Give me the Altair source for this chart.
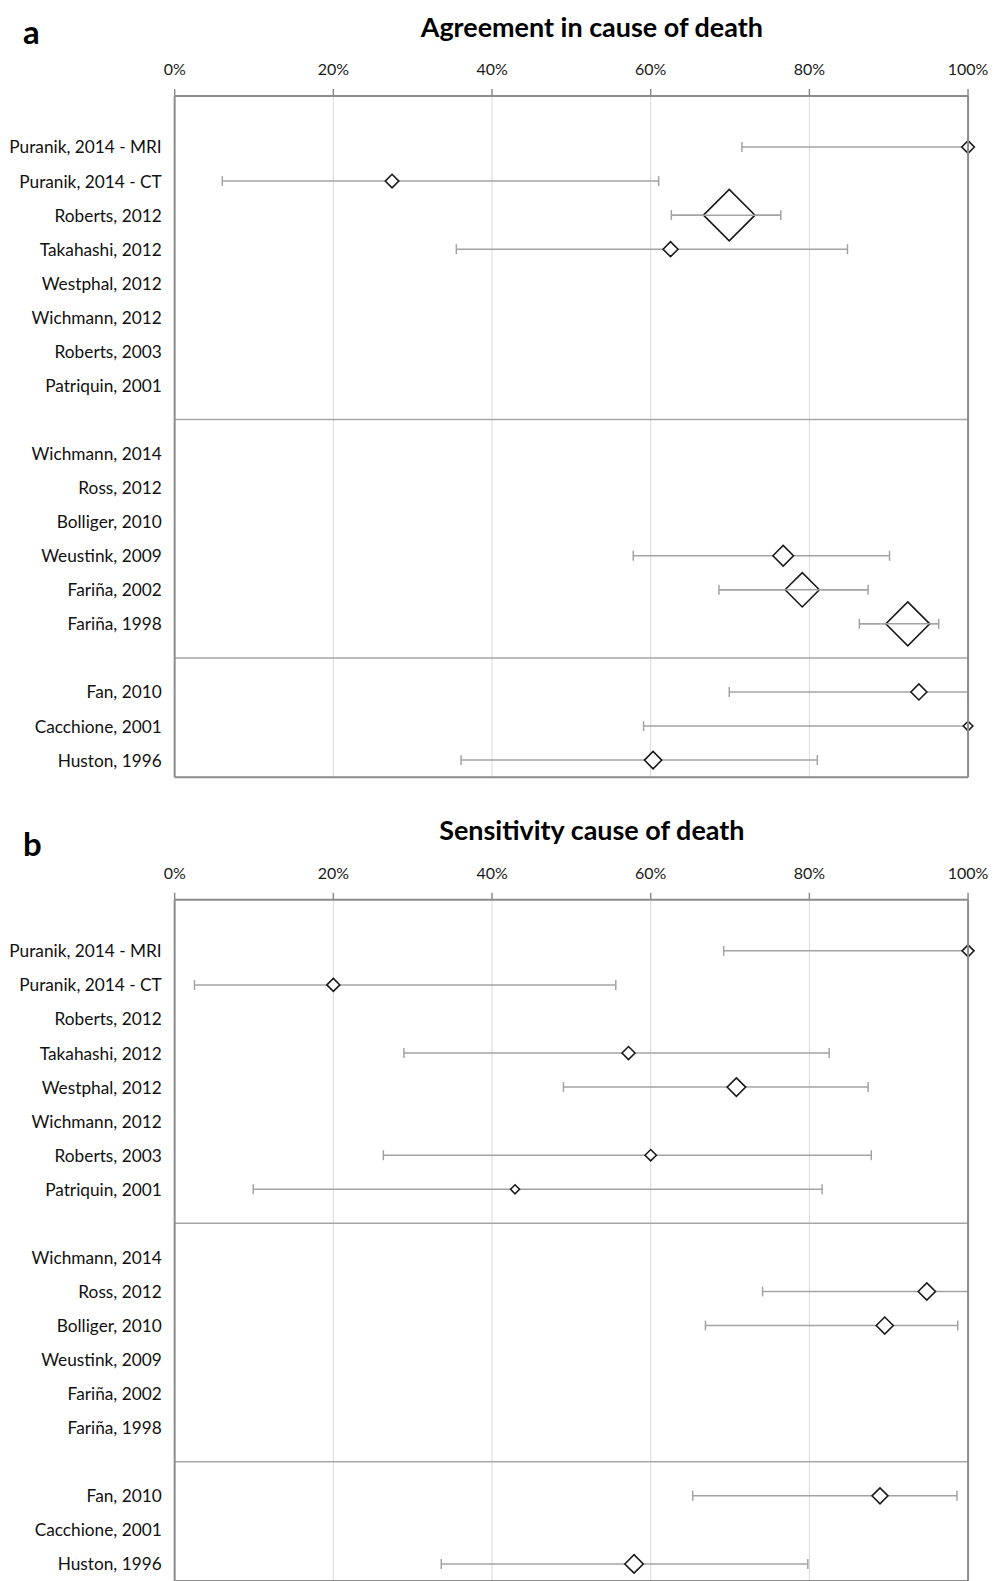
import altair as alt
import pandas as pd

# ---------------- data ----------------
studies = ["Puranik, 2014 - MRI", "Puranik, 2014 - CT", "Roberts, 2012", "Takahashi, 2012",
           "Westphal, 2012", "Wichmann, 2012", "Roberts, 2003", "Patriquin, 2001",
           "Wichmann, 2014", "Ross, 2012", "Bolliger, 2010", "Weustink, 2009",
           "Fariña, 2002", "Fariña, 1998",
           "Fan, 2010", "Cacchione, 2001", "Huston, 1996"]
groups = [1, 1, 1, 1, 1, 1, 1, 1, 2, 2, 2, 2, 2, 2, 3, 3, 3]
ticks = [0, 20, 40, 60, 80, 100]
panel_titles = ["Agreement in cause of death", "Sensitivity cause of death"]
panel_letters = ["a", "b"]

N = None
# panel a: agreement (%)
agree_est = [100, 27.4, 69.9, 62.5, N, N, N, N, N, N, N, 76.7, 79.1, 92.4, 93.8, 100, 60.3]
agree_lo = [71.5, 6.0, 62.6, 35.5, N, N, N, N, N, N, N, 57.8, 68.6, 86.3, 69.9, 59.1, 36.1]
agree_hi = [100, 61.0, 76.4, 84.8, N, N, N, N, N, N, N, 90.1, 87.4, 96.3, 100, 100, 81.0]
agree_w = [1.6, 1.85, 26.6, 2.25, N, N, N, N, N, N, N, 4.24, 11.8, 19.4, 2.56, 0.92, 3.0]

# panel b: sensitivity (%)
sens_est = [100, 20.0, N, 57.2, 70.8, N, 60.0, 42.9, N, 94.8, 89.5, N, N, N, 88.9, N, 57.9]
sens_lo = [69.2, 2.5, N, 28.9, 49.0, N, 26.3, 9.9, N, 74.1, 66.9, N, N, N, 65.3, N, 33.6]
sens_hi = [100, 55.6, N, 82.5, 87.4, N, 87.8, 81.6, N, 100, 98.7, N, N, N, 98.6, N, 79.8]
sens_w = [1.44, 1.69, N, 1.69, 3.46, N, 1.3, 0.81, N, 3.0, 2.9, N, N, N, 2.56, N, 3.4]

# ---------------- layout constants ----------------
SLOT = 34.13            # px per row slot
PANEL_OFFSETS = [0.0, 23.6]
PANEL_SLOTS = 20
TOTAL = PANEL_OFFSETS[1] + PANEL_SLOTS
CAP = 0.146             # half height of CI caps, in slots
TICK = 0.205            # axis tick length, in slots
LETTER_DY = [-52.2 / SLOT, -43.7 / SLOT]

FONT = "Lato"
GRID = "#d9d9d9"
FRAME = "#8c8c8c"
SEP = "#a6a6a6"
CI = "#a3a3a3"

series = [(agree_est, agree_lo, agree_hi, agree_w), (sens_est, sens_lo, sens_hi, sens_w)]

rows, caps, panels, frame_v, frame_h, grid, tick_df = [], [], [], [], [], [], []
for p, (est, lo, hi, w) in enumerate(series):
    o = PANEL_OFFSETS[p]
    for i, lab in enumerate(studies):
        idx = i + 1.5 + (groups[i] - 1)
        has = est[i] is not None
        rows.append(dict(label=lab, y=o + idx, has=has,
                         est=est[i] if has else 0.0, lo=lo[i] if has else 0.0,
                         hi=hi[i] if has else 0.0, w=w[i] if has else 0.0))
        if has:
            for xv in (lo[i], hi[i]):
                caps.append(dict(x=xv, y1=o + idx - CAP, y2=o + idx + CAP))
    panels.append(dict(title=panel_titles[p], letter=panel_letters[p], y=o,
                       ly=o + LETTER_DY[p]))
    for xv in (ticks[0], ticks[-1]):
        frame_v.append(dict(x=xv, y1=o, y2=o + PANEL_SLOTS))
    frame_h.append(dict(y=o, x1=ticks[0], x2=ticks[-1], kind="frame"))
    frame_h.append(dict(y=o + PANEL_SLOTS, x1=ticks[0], x2=ticks[-1], kind="frame"))
    for g in sorted(set(groups))[:-1]:
        last = max(i for i, gg in enumerate(groups) if gg == g)
        frame_h.append(dict(y=o + last + 1.5 + (g - 1) + 1.0, x1=ticks[0], x2=ticks[-1],
                            kind="sep"))
    for t in ticks:
        tick_df.append(dict(x=t, y1=o, y2=o - TICK, lab=f"{t}%"))
        if 0 < t < 100:
            grid.append(dict(x=t, y1=o, y2=o + PANEL_SLOTS))

df = pd.DataFrame(rows)
pts = df[df["has"]].drop(columns=["has"])
lab_df = df[["label", "y"]]
caps_df = pd.DataFrame(caps)
panels_df = pd.DataFrame(panels)
fv_df = pd.DataFrame(frame_v)
fh_df = pd.DataFrame(frame_h)
sep_df = fh_df[fh_df["kind"] == "sep"]
fr_df = fh_df[fh_df["kind"] == "frame"]
grid_df = pd.DataFrame(grid)
ticks_df = pd.DataFrame(tick_df)
big_df = pts[pts["w"] > 10]

XS = alt.Scale(domain=[0, 100], nice=False, zero=False)
YS = alt.Scale(domain=[0, TOTAL], reverse=True, nice=False, zero=False)


def X(f):
    return alt.X(f, type="quantitative", scale=XS, axis=None)


def Y(f):
    return alt.Y(f, type="quantitative", scale=YS, axis=None)


grid_l = alt.Chart(grid_df).mark_rule(color=GRID, strokeWidth=1).encode(
    x=X("x"), y=Y("y1"), y2=alt.Y2("y2"))

sep_l = alt.Chart(sep_df).mark_rule(color=SEP, strokeWidth=1.5).encode(
    x=X("x1"), x2=alt.X2("x2"), y=Y("y"))

frame_h_l = alt.Chart(fr_df).mark_rule(color=FRAME, strokeWidth=2).encode(
    x=X("x1"), x2=alt.X2("x2"), y=Y("y"))

frame_v_l = alt.Chart(fv_df).mark_rule(color=FRAME, strokeWidth=2).encode(
    x=X("x"), y=Y("y1"), y2=alt.Y2("y2"))

tick_l = alt.Chart(ticks_df).mark_rule(color=FRAME, strokeWidth=1.5).encode(
    x=X("x"), y=Y("y1"), y2=alt.Y2("y2"))

ticklab_l = alt.Chart(ticks_df).mark_text(
    font=FONT, fontSize=16, color="#1a1a1a", baseline="alphabetic", align="center", dy=-21
).encode(x=X("x"), y=Y("y1"), text="lab:N")

label_l = alt.Chart(lab_df).mark_text(
    font=FONT, fontSize=17.3, color="#111111", align="right", baseline="alphabetic", dy=6.5
).encode(x=alt.value(-13), y=Y("y"), text="label:N")

ci_l = alt.Chart(pts).mark_rule(color=CI, strokeWidth=1.5).encode(
    x=X("lo"), x2=alt.X2("hi"), y=Y("y"))

caps_l = alt.Chart(caps_df).mark_rule(color=CI, strokeWidth=1.5).encode(
    x=X("x"), y=Y("y1"), y2=alt.Y2("y2"))

diam_l = alt.Chart(pts).mark_point(
    shape="diamond", filled=False, fill="white", fillOpacity=1, stroke="#1a1a1a",
    strokeWidth=1.6, opacity=1
).encode(
    x=X("est"), y=Y("y"),
    size=alt.Size("w:Q", scale=alt.Scale(type="linear", domain=[0, 30], range=[0, 3000]),
                  legend=None))

ci_top_l = alt.Chart(big_df).mark_rule(color=CI, strokeWidth=1.5).encode(
    x=X("lo"), x2=alt.X2("hi"), y=Y("y"))

title_l = alt.Chart(panels_df).mark_text(
    font=FONT, fontSize=27, fontWeight="bold", color="#000000", align="center",
    baseline="alphabetic", dy=-59.5
).encode(x=alt.value(418), y=Y("y"), text="title:N")

letter_l = alt.Chart(panels_df).mark_text(
    font=FONT, fontSize=33, fontWeight="bold", color="#000000", align="left",
    baseline="alphabetic"
).encode(x=alt.value(-152), y=Y("ly"), text="letter:N")

chart = alt.layer(
    grid_l, sep_l, ci_l, caps_l, diam_l, ci_top_l, frame_h_l, frame_v_l, tick_l,
    ticklab_l, label_l, title_l, letter_l
).properties(
    width=795,
    height=TOTAL * SLOT,
    padding={"left": 167, "top": 86.5, "right": 30, "bottom": 5},
    autosize=alt.AutoSizeParams(type="none"),
).configure_view(stroke=None)

chart.save("out.html", embed_options={"renderer": "svg", "actions": False})
